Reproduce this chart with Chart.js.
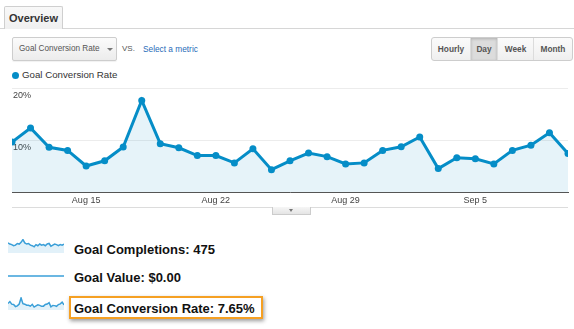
<!DOCTYPE html>
<html>
<head>
<meta charset="utf-8">
<script src="https://cdn.jsdelivr.net/npm/chart.js@4.4.0/dist/chart.umd.min.js"></script>
<style>
  body { margin: 0; background: #fff; font-family: Arial, "Liberation Sans", sans-serif; }
  #page { position: relative; width: 574px; height: 329px; overflow: hidden; }
  .abs { position: absolute; }
  .tabline { left: 0; top: 28px; width: 574px; height: 1px; background: #d6d6d6; }
  .tab { left: 4px; top: 6px; width: 57px; height: 22px; border: 1px solid #cfcfcf; border-bottom: none;
         border-radius: 2px 2px 0 0; background: linear-gradient(#f8f8f8, #f0f0f0);
         font-size: 11px; font-weight: bold; color: #333; text-align: center; line-height: 22px; }
  .dropdown { left: 12px; top: 37px; width: 103px; height: 22px; border: 1px solid #cdcdcd; border-radius: 2px;
              background: linear-gradient(#fbfbfb, #ececec); box-shadow: 0 1px 1px rgba(0,0,0,0.06);
              font-size: 8.2px; color: #555; line-height: 22px; text-indent: 6px; }
  .arrow { left: 94px; top: 10px; width: 0; height: 0; border-left: 3px solid transparent;
           border-right: 3px solid transparent; border-top: 3px solid #777; }
  .vs { left: 122px; top: 44px; font-size: 8px; color: #555; }
  .pick { left: 143px; top: 44px; font-size: 8.3px; color: #1f6cb8; }
  .btns { left: 431px; top: 37px; height: 22px; border: 1px solid #cdcdcd; border-radius: 3px; display: flex;
          background: linear-gradient(#fbfbfb, #efefef); overflow: hidden; }
  .btns div { font-size: 8.3px; font-weight: bold; color: #555; text-align: center; line-height: 22px;
              border-right: 1px solid #dcdcdc; }
  .btns div:last-child { border-right: none; }
  .btns .on { background: #dcdcdc; box-shadow: inset 0 1px 3px rgba(0,0,0,0.2); }
  .dot { left: 12px; top: 72px; width: 7px; height: 7px; border-radius: 50%; background: #058dc7; }
  .legend { left: 22px; top: 69px; font-size: 9.7px; color: #333; line-height: 12px; }
  .handleline { left: 12px; top: 207px; width: 556px; height: 1px; background: #dcdcdc; }
  .handle { left: 272px; top: 207px; width: 37px; height: 7px; border: 1px solid #ccc; border-top: none;
            background: linear-gradient(#f6f6f6, #e4e4e4); }
  .handle span { position: absolute; left: 16px; top: 2px; width: 0; height: 0; border-left: 2.5px solid transparent;
                 border-right: 2.5px solid transparent; border-top: 3px solid #777; }
  .stat { left: 74px; font-size: 13px; font-weight: bold; color: #111; line-height: 15px; white-space: nowrap; }
  .box { left: 69px; top: 296px; width: 194px; height: 23px; box-sizing: border-box; border: 2px solid #f5a023;
         box-shadow: 1px 2px 4px rgba(0,0,0,0.4); background: #fff; }
</style>
</head>
<body>
<div id="page">
  <div class="abs tabline"></div>
  <div class="abs tab">Overview</div>

  <div class="abs dropdown">Goal Conversion Rate<div class="abs arrow"></div></div>
  <div class="abs vs">VS.</div>
  <div class="abs pick">Select a metric</div>
  <div class="abs btns">
    <div style="width:38px">Hourly</div>
    <div class="on" style="width:26px">Day</div>
    <div style="width:35px">Week</div>
    <div style="width:38px">Month</div>
  </div>

  <div class="abs dot"></div>
  <div class="abs legend">Goal Conversion Rate</div>

  <div class="abs" style="left:0;top:84px;width:574px;height:124px;"><canvas id="mainChart"></canvas></div>
  <div class="abs handleline"></div>
  <div class="abs handle"><span></span></div>

  <div class="abs" style="left:8px;top:239px;width:56px;height:14px;"><canvas id="sparkCompletions"></canvas></div>
  <div class="abs" style="left:8px;top:270px;width:56px;height:12px;"><canvas id="sparkValue"></canvas></div>
  <div class="abs" style="left:8px;top:297px;width:56px;height:13px;"><canvas id="sparkRate"></canvas></div>

  <div class="abs box"></div>
  <div class="abs stat" id="txtCompletions" style="top:242px;"></div>
  <div class="abs stat" id="txtValue" style="top:270px;"></div>
  <div class="abs stat" id="txtRate" style="top:301px;"></div>
</div>

<script>
// one entry per day, Aug 11 to Sep 10
const days = [
  'Aug 11', 'Aug 12', 'Aug 13', 'Aug 14', 'Aug 15', 'Aug 16', 'Aug 17', 'Aug 18',
  'Aug 19', 'Aug 20', 'Aug 21', 'Aug 22', 'Aug 23', 'Aug 24', 'Aug 25', 'Aug 26',
  'Aug 27', 'Aug 28', 'Aug 29', 'Aug 30', 'Aug 31', 'Sep 1', 'Sep 2', 'Sep 3',
  'Sep 4', 'Sep 5', 'Sep 6', 'Sep 7', 'Sep 8', 'Sep 9', 'Sep 10'
];
const shownDays = ['Aug 15', 'Aug 22', 'Aug 29', 'Sep 5'];

// daily goal conversion rate (%)
const conversionRate = [
  9.6, 12.3, 8.6, 8.0, 5.0, 6.0, 8.65, 17.6, 9.3, 8.5, 7.0, 7.0, 5.6, 8.3, 4.3, 6.0,
  7.5, 6.8, 5.4, 5.6, 8.0, 8.7, 10.6, 4.5, 6.6, 6.4, 5.4, 8.0, 9.0, 11.4, 7.4
];
// daily goal completions
const completions = [
  18, 16, 15, 13, 14, 17, 16, 19, 24, 18, 16, 17, 14, 13, 11, 15,
  13, 16, 14, 15, 13, 16, 17, 12, 14, 16, 15, 13, 15, 14, 16
];
// daily goal value ($)
const goalValue = days.map(() => 0);
const overallRate = 7.65;
const yTicks = [10, 20];

const BLUE = '#058dc7';
const SPARK = '#3a9fd8';

document.getElementById('txtCompletions').textContent =
  'Goal Completions: ' + completions.reduce((a, b) => a + b, 0);
document.getElementById('txtValue').textContent =
  'Goal Value: $' + goalValue.reduce((a, b) => a + b, 0).toFixed(2);
document.getElementById('txtRate').textContent =
  'Goal Conversion Rate: ' + overallRate.toFixed(2) + '%';

// percent labels sit just under their gridline, inside the plot
const yLabels = {
  id: 'yLabels',
  beforeDatasetsDraw(chart) {
    const ctx = chart.ctx;
    const y = chart.scales.y;
    ctx.save();
    ctx.font = '9px Arial';
    ctx.fillStyle = '#444';
    ctx.textBaseline = 'alphabetic';
    yTicks.forEach(v => {
      ctx.fillText(v + '%', chart.chartArea.left + 1, y.getPixelForValue(v) + 10);
    });
    ctx.restore();
  }
};

new Chart(document.getElementById('mainChart'), {
  type: 'line',
  data: {
    labels: days,
    datasets: [{
      data: conversionRate,
      borderColor: BLUE,
      borderWidth: 3,
      backgroundColor: 'rgba(5,141,199,0.1)',
      fill: 'origin',
      tension: 0,
      pointRadius: 3.5,
      pointBackgroundColor: BLUE,
      pointBorderWidth: 0,
      clip: { left: 0, right: 0, top: false, bottom: false }
    }]
  },
  options: {
    responsive: true,
    maintainAspectRatio: false,
    animation: false,
    layout: { padding: { left: 12, right: 6, top: 4, bottom: 0 } },
    plugins: { legend: { display: false }, tooltip: { enabled: false } },
    scales: {
      x: {
        grid: { display: false, drawTicks: false },
        border: { display: true, color: '#555', width: 1 },
        ticks: {
          autoSkip: false,
          maxRotation: 0,
          padding: 3,
          color: '#444',
          font: { family: 'Arial', size: 9 },
          callback: function(v) {
            const lbl = this.getLabelForValue(v);
            return shownDays.includes(lbl) ? lbl : '';
          }
        },
        afterFit: s => { s.height = 16; }
      },
      y: {
        min: 0,
        max: 20,
        ticks: { display: false, stepSize: 10 },
        grid: { color: '#ececec', drawTicks: false },
        border: { display: false },
        afterFit: s => { s.width = 0; }
      }
    }
  },
  plugins: [yLabels]
});

function sparkline(id, values, yMin, yMax, filled) {
  new Chart(document.getElementById(id), {
    type: 'line',
    data: {
      labels: days,
      datasets: [{
        data: values,
        borderColor: SPARK,
        borderWidth: 1.5,
        backgroundColor: 'rgba(58,159,216,0.15)',
        fill: filled ? 'origin' : false,
        tension: 0,
        pointRadius: 0,
        clip: false
      }]
    },
    options: {
      responsive: true,
      maintainAspectRatio: false,
      animation: false,
      plugins: { legend: { display: false }, tooltip: { enabled: false } },
      scales: {
        x: { display: false },
        y: { display: false, min: yMin, max: yMax }
      }
    }
  });
}

sparkline('sparkCompletions', completions, 0, 25, true);
sparkline('sparkValue', goalValue, -1, 1, false);
sparkline('sparkRate', conversionRate, 0, 19, true);
</script>
</body>
</html>
